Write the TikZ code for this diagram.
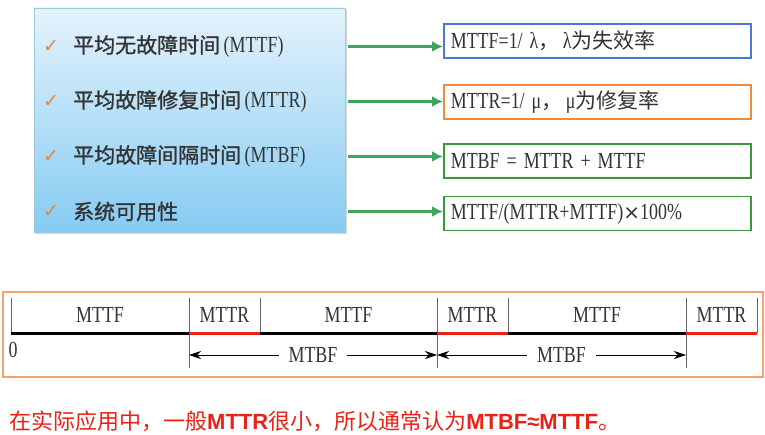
\documentclass[tikz,border=0pt]{standalone}
\usepackage{fontspec}
\setmainfont{Liberation Serif}
\newfontfamily\cjk{Noto Sans CJK SC}
\newfontfamily\cjkb{Noto Sans CJK SC}[FakeBold=1.2]
\newfontfamily\cserif[FakeStretch=0.78]{Liberation Serif}
\newfontfamily\symf{DejaVu Sans}
\newfontfamily\bsans{Liberation Sans}
\usetikzlibrary{arrows.meta,shadows}
\definecolor{boxtop}{HTML}{E4F3FC}
\definecolor{boxbot}{HTML}{86CBF2}
\definecolor{boxline}{HTML}{9CC8DE}
\definecolor{chkorange}{HTML}{E8853A}
\definecolor{agreen}{HTML}{3DA65C}
\definecolor{bblue}{HTML}{4A76D8}
\definecolor{borange}{HTML}{EE8A3C}
\definecolor{bgreen}{HTML}{3C963C}
\definecolor{tlorange}{HTML}{F0A468}
\definecolor{tred}{HTML}{E82218}
\definecolor{txt}{HTML}{333333}
\begin{document}
\begin{tikzpicture}[x=1pt,y=-1pt,
  mainbox/.style={draw=boxline, line width=0.8pt, top color=boxtop, bottom color=boxbot,
    drop shadow={shadow xshift=2pt, shadow yshift=-2pt, opacity=0.3},
    minimum width=311pt, minimum height=224pt, inner sep=0pt},
  chk/.style={text=chkorange, font=\symf\fontsize{19}{21}\selectfont, inner sep=0pt},
  item/.style={anchor=west, text=txt, inner sep=0pt, font=\fontsize{21}{24}\selectfont},
  rbox/.style={anchor=west, line width=1.6pt, fill=white, text width=293pt, inner xsep=7pt,
    minimum height=34pt, align=left, text=txt, font=\fontsize{21}{24}\selectfont},
  garrow/.style={draw=agreen, line width=2.6pt, -{Latex[length=11pt,width=11pt]}, shorten <=3pt},
  tick/.style={draw=black!60, line width=1pt},
  tllab/.style={text=txt, inner sep=1pt, font=\cserif\fontsize{23}{26}\selectfont},
  dim/.style={draw=black, line width=0.9pt, {Stealth[length=12pt,width=8pt]}-{Stealth[length=12pt,width=8pt]}}
]
\useasboundingbox (0,0) rectangle (765,435);
\fill[white] (0,0) rectangle (765,435);

% main blue box
\node[mainbox] (main) at (189.5,120) {};
\node[chk] (c1) at (51,47) {✓};
\node[chk] (c2) at (51,102) {✓};
\node[chk] (c3) at (51,157) {✓};
\node[chk] (c4) at (51,212) {✓};
\node[item] (i1) at (73,46.5) {{\cjkb 平均无故障时间}\,{\cserif\fontsize{23}{24}\selectfont (MTTF)}};
\node[item] (i2) at (73,101.5) {{\cjkb 平均故障修复时间}\,{\cserif\fontsize{23}{24}\selectfont (MTTR)}};
\node[item] (i3) at (73,156.5) {{\cjkb 平均故障间隔时间}\,{\cserif\fontsize{23}{24}\selectfont (MTBF)}};
\node[item] (i4) at (73,211.5) {{\cjkb 系统可用性}};

% right boxes
\node[rbox, draw=bblue] (f1) at (443,41) {{\cserif\fontsize{23}{24}\selectfont MTTF=1/ λ}{\cjk ，\,}{\cserif\fontsize{23}{24}\selectfont λ}{\cjk 为失效率}};
\node[rbox, draw=borange] (f2) at (443,102) {{\cserif\fontsize{23}{24}\selectfont MTTR=1/ μ}{\cjk ，\,}{\cserif\fontsize{23}{24}\selectfont μ}{\cjk 为修复率}};
\node[rbox, draw=bgreen] (f3) at (443,161) {{\cserif\fontsize{23}{24}\selectfont MTBF = MTTR + MTTF}};
\node[rbox, draw=bgreen] (f4) at (443,213.5) {{\cserif\fontsize{23}{24}\selectfont MTTF/(MTTR+MTTF)}{\symf\fontsize{20}{22}\selectfont ×}{\cserif\fontsize{23}{24}\selectfont 100\%}};

% arrows
\draw[garrow] (main.east |- i1) -- (f1.west |- i1);
\draw[garrow] (main.east |- i2) -- (f2.west |- i2);
\draw[garrow] (main.east |- i3) -- (f3.west |- i3);
\draw[garrow] (main.east |- i4) -- (f4.west |- i4);

% timeline
\node[draw=tlorange, line width=1.6pt, minimum width=760pt, minimum height=85pt, inner sep=0pt] (tl) at (383,334.5) {};
\coordinate (t0) at (11,333);
\coordinate (t1) at (189,333);
\coordinate (t2) at (260,333);
\coordinate (t3) at (437,333);
\coordinate (t4) at (508,333);
\coordinate (t5) at (686,333);
\coordinate (t6) at (757,333);
\draw[tick] (t0) -- ++(0,-35);
\draw[tick] (t2) -- ++(0,-35);
\draw[tick] (t4) -- ++(0,-35);
\draw[tick] (t6) -- ++(0,-35);
\draw[tick] ([yshift=35pt]t1) -- ++(0,70);
\draw[tick] ([yshift=35pt]t3) -- ++(0,70);
\draw[tick] ([yshift=35pt]t5) -- ++(0,70);
\draw[line width=3pt, black] (t0) -- (t6);
\draw[line width=3pt, tred] (t1) -- (t2);
\draw[line width=3pt, tred] (t3) -- (t4);
\draw[line width=3pt, tred] (t5) -- (t6);
\node[tllab] (l1) at (100,315) {MTTF};
\node[tllab] (l2) at (224.5,315) {MTTR};
\node[tllab] (l3) at (348.5,315) {MTTF};
\node[tllab] (l4) at (472.5,315) {MTTR};
\node[tllab] (l5) at (597,315) {MTTF};
\node[tllab] (l6) at (721.5,315) {MTTR};
\node[tllab] (zero) at (13,350) {0};
\coordinate (d1) at (189,355);
\coordinate (d3) at (437,355);
\coordinate (d5) at (686,355);
\draw[dim] (d1) -- (d3) node[midway, tllab, fill=white, inner xsep=10pt] (m1) {MTBF};
\draw[dim] (d3) -- (d5) node[midway, tllab, fill=white, inner xsep=10pt] (m2) {MTBF};

% note
\node[anchor=west, text=tred, inner sep=0pt, font=\fontsize{22}{24}\selectfont] (note) at (9,421)
  {{\cjk 在实际应用中，一般}{\bsans\bfseries MTTR}{\cjk 很小，所以通常认为}{\bsans\bfseries MTBF≈MTTF}{\cjk 。}};
\end{tikzpicture}
\end{document}
